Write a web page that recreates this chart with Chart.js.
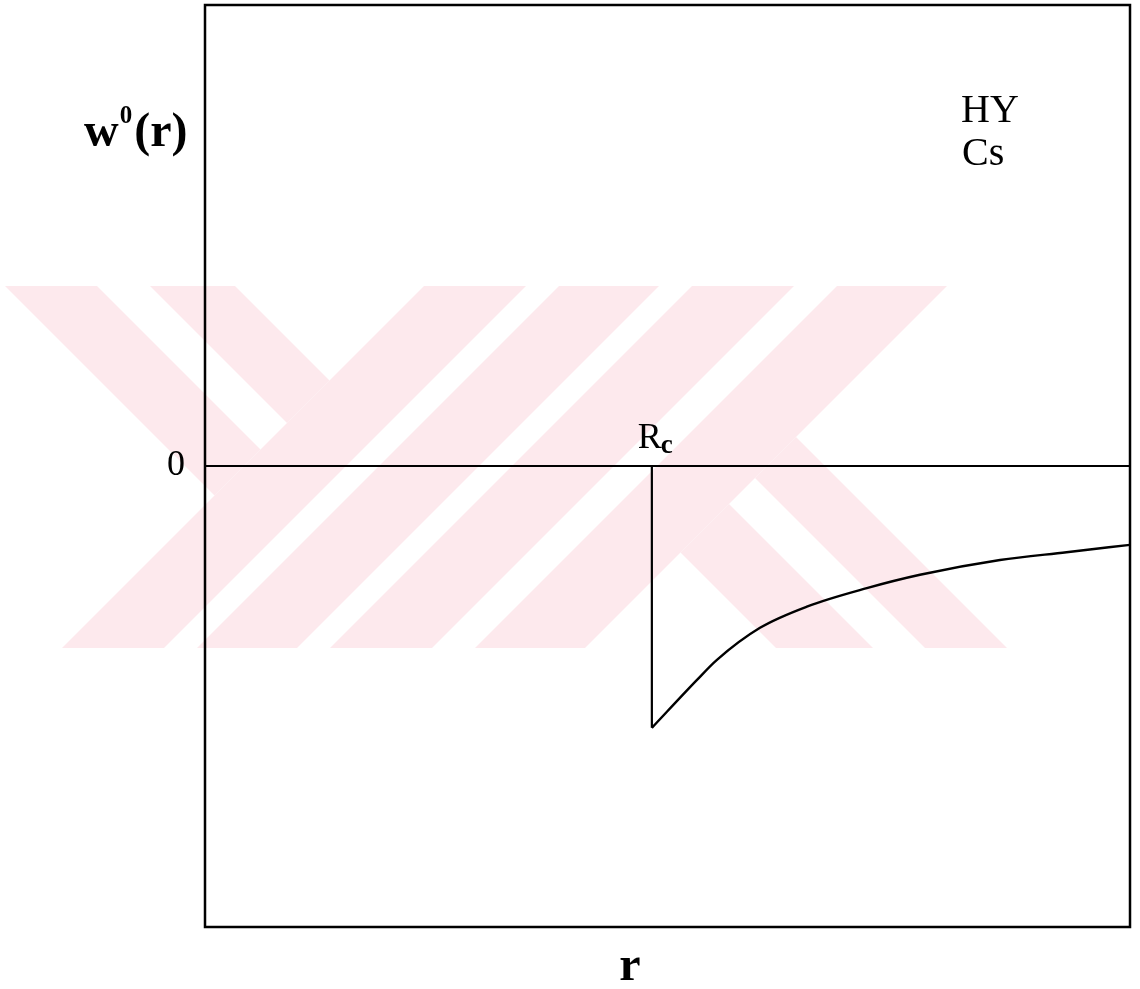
<!DOCTYPE html>
<html>
<head>
<meta charset="utf-8">
<script src="https://cdn.jsdelivr.net/npm/chart.js@4"></script>
<style>
  html, body { margin: 0; padding: 0; background: #fff; }
  #wrap { width: 1140px; height: 989px; }
</style>
</head>
<body>
<div id="wrap"><canvas id="myChart"></canvas></div>
<script>
// r in units of Rc, w0(r) in arbitrary units
var rc = 1.0;
var rDrop = [rc, rc];
var wDrop = [0, -0.568];
var rCurve = [1.0, 1.101, 1.145, 1.242, 1.347, 1.481, 1.600, 1.779, 1.928, 2.07];
var wCurve = [-0.568, -0.464, -0.421, -0.351, -0.305, -0.265, -0.236, -0.204, -0.187, -0.171];
var yTicks = [0];
var labels = ['HY', 'Cs'];

function pts(xs, ys) {
    var out = [];
    for (var i = 0; i < xs.length; i++) out.push({ x: xs[i], y: ys[i] });
    return out;
}

// pale background logo made of 45 degree bands
function band(ctx, dir, a, b, y0, y1) {
    ctx.beginPath();
    if (dir === '/') {
        ctx.moveTo(a - y0, y0); ctx.lineTo(b - y0, y0); ctx.lineTo(b - y1, y1); ctx.lineTo(a - y1, y1);
    } else {
        ctx.moveTo(a + y0, y0); ctx.lineTo(b + y0, y0); ctx.lineTo(b + y1, y1); ctx.lineTo(a + y1, y1);
    }
    ctx.closePath();
}

var logoPlugin = {
    id: 'logo',
    beforeDraw: function (chart) {
        var ctx = chart.ctx;
        var y0 = 286, y1 = 648;
        ctx.save();
        ctx.fillStyle = '#fde9ed';
        // left part
        ctx.save();
        band(ctx, '/', -3000, 710, y0, y1); ctx.clip();
        band(ctx, '\\', -281, -189, y0, y1); ctx.fill();
        band(ctx, '\\', -136, -51, y0, y1); ctx.fill();
        ctx.restore();
        // middle bands
        [[710, 812], [845, 945], [978, 1080], [1123, 1233]].forEach(function (b) {
            band(ctx, '/', b[0], b[1], y0, y1); ctx.fill();
        });
        // right legs
        ctx.save();
        band(ctx, '/', 1233, 4000, y0, y1); ctx.clip();
        band(ctx, '\\', 128, 225, y0, y1); ctx.fill();
        band(ctx, '\\', 277, 359, y0, y1); ctx.fill();
        ctx.restore();
        ctx.restore();
    },
    afterDraw: function (chart) {
        var ctx = chart.ctx;
        var a = chart.chartArea;
        var xs = chart.scales.x;
        ctx.save();
        ctx.strokeStyle = '#000';
        ctx.lineWidth = 2.5;
        ctx.strokeRect(a.left, a.top, a.right - a.left, a.bottom - a.top);

        ctx.fillStyle = '#000';
        ctx.textBaseline = 'alphabetic';
        ctx.textAlign = 'left';
        // w^0(r)
        var x = 84;
        ctx.font = 'bold 48px "Liberation Serif"';
        ctx.fillText('w', x, 146);
        x += ctx.measureText('w').width;
        ctx.font = 'bold 25px "Liberation Serif"';
        ctx.fillText('0', x + 1, 123);
        x += ctx.measureText('0').width + 3;
        ctx.font = 'bold 48px "Liberation Serif"';
        ctx.fillText('(r)', x, 146);

        // HY / Cs
        ctx.font = '40px "Liberation Serif"';
        ctx.fillText(labels[0], 961, 122);
        ctx.fillText(labels[1], 962, 165);

        // Rc
        var px = xs.getPixelForValue(rc);
        ctx.font = '36px "Liberation Serif"';
        ctx.fillText('R', px - 14, 448);
        var rw = ctx.measureText('R').width;
        ctx.font = 'bold 27px "Liberation Serif"';
        ctx.fillText('c', px - 15 + rw, 453);

        // r
        ctx.textAlign = 'center';
        ctx.font = 'bold 48px "Liberation Serif"';
        ctx.fillText('r', 630, 980);
        ctx.restore();
    }
};

var ctx = document.getElementById('myChart').getContext('2d');
var myChart = new Chart(ctx, {
    type: 'line',
    data: {
        datasets: [{
            data: pts(rDrop, wDrop),
            borderColor: '#000',
            borderWidth: 2.2,
            pointRadius: 0,
            tension: 0
        },
        {
            data: pts(rCurve, wCurve),
            borderColor: '#000',
            borderWidth: 2.4,
            pointRadius: 0,
            cubicInterpolationMode: 'monotone'
        }]
    },
    plugins: [logoPlugin],
    options: {
        responsive: true,
        maintainAspectRatio: false,
        animation: false,
        layout: { padding: { top: 5, right: 10, left: 0, bottom: 0 } },
        plugins: { legend: { display: false }, tooltip: { enabled: false } },
        scales: {
            x: {
                type: 'linear',
                min: 0,
                max: 2.07,
                grid: { display: false },
                border: { display: false },
                ticks: { display: false },
                afterFit: function (s) {
                    s.height = 62;
                    s.paddingLeft = 0;
                    s.paddingRight = 0;
                }
            },
            y: {
                min: -1,
                max: 1,
                afterBuildTicks: function (s) {
                    s.ticks = yTicks.map(function (v) { return { value: v }; });
                },
                grid: {
                    drawTicks: false,
                    color: '#000',
                    lineWidth: 2
                },
                border: { display: false },
                ticks: {
                    padding: 20,
                    color: '#000',
                    font: { family: '"Liberation Serif"', size: 36 }
                },
                afterFit: function (s) {
                    s.width = 205;
                    s.paddingTop = 0;
                    s.paddingBottom = 0;
                }
            }
        }
    }
});
</script>
</body>
</html>
